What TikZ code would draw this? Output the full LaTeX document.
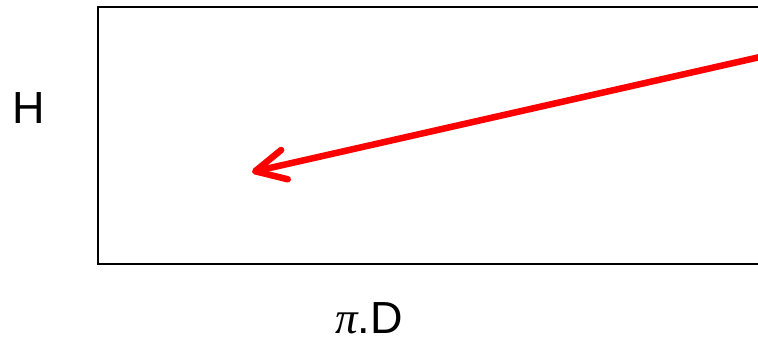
\documentclass[tikz,border=0pt]{standalone}
\usepackage{fontspec}
\setmainfont{Liberation Sans}
\newfontfamily\grkfont{Liberation Serif}
\usetikzlibrary{arrows.meta}
\begin{document}
\begin{tikzpicture}[x=1pt,y=1pt,
  lbl/.style={inner sep=0pt, font=\fontsize{45}{54}\selectfont, anchor=base},
  frame/.style={draw=black, line width=2pt},
  redarrow/.style={draw=red, line width=6.5pt, line cap=round,
    -{Straight Barb[round, length=30pt, width=30pt]}}]
\useasboundingbox (0,0) rectangle (758,340);
\coordinate (tr) at (770,333);
\coordinate (tl) at (98,333);
\coordinate (bl) at (98,76);
\coordinate (br) at (770,76);
\draw[frame] (tr) -- (tl) -- (bl) -- (br);
\coordinate (start) at (760,283);
\coordinate (tip) at (252,168);
\draw[redarrow] (start) -- (tip);
\node[lbl] (H) at (29,216) {H};
\node[lbl] (piD) at (369,6) {{\grkfont\itshape π}.D};
\end{tikzpicture}
\end{document}
